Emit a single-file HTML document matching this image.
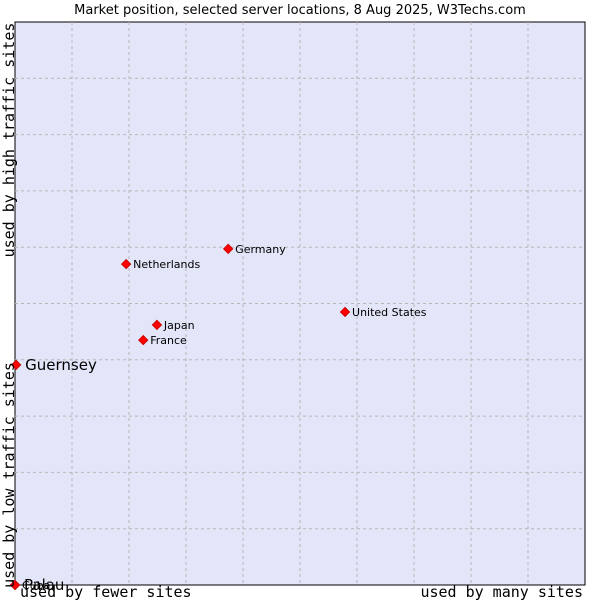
<!DOCTYPE html>
<html><head><meta charset="utf-8"><style>
body{margin:0;background:#fff;width:600px;height:600px;overflow:hidden}
svg text{font-family:"DejaVu Sans","Liberation Sans",sans-serif}
.mono{font-family:"DejaVu Sans Mono","Liberation Mono",monospace}
</style></head><body>
<svg id="chart" width="600" height="600">
<text x="300" y="14" text-anchor="middle" font-size="13" fill="#000">Market position, selected server locations, 8 Aug 2025, W3Techs.com</text>
<rect x="15" y="22" width="570" height="563" fill="#e3e5f8" stroke="#000" stroke-width="1"/>
<g id="grid"></g>
<g id="points"></g>
<text class="mono" x="300" y="0" transform="translate(14,270) rotate(-90)" text-anchor="middle" font-size="15" x="0"></text>
<text class="mono" transform="translate(14,140) rotate(-90)" text-anchor="middle" font-size="15">used by high traffic sites</text>
<text class="mono" transform="translate(14,475) rotate(-90)" text-anchor="middle" font-size="15">used by low traffic sites</text>
<text class="mono" x="20" y="597" font-size="15">used by fewer sites</text>
<text class="mono" x="583" y="597" text-anchor="end" font-size="15">used by many sites</text>
</svg>
<script>
const names=["Netherlands","Germany","Japan","France","United States","Guernsey","Palau","Cuba"];
const xs=[19.5,37.4,24.9,22.5,57.9,0.2,0,0];
const ys=[57.0,59.7,46.2,43.5,48.5,39.1,0,0];
const big=[false,false,false,false,false,true,true,false];
const L=15,T=22,W=570,H=563;
const sx=v=>L+v/100*W, sy=v=>T+H-v/100*H;
const NS="http://www.w3.org/2000/svg";
const g=document.getElementById('grid');
for(let i=1;i<10;i++){
 const v=document.createElementNS(NS,'line');
 
 
 v.setAttribute('x1',sx(i*10));v.setAttribute('x2',sx(i*10));v.setAttribute('y1',T);v.setAttribute('y2',T+H);
 v.setAttribute('stroke','#b8b8b8');v.setAttribute('stroke-dasharray','3,3');g.appendChild(v);
 const h=document.createElementNS(NS,'line');
 
 
 h.setAttribute('y1',sy(i*10));h.setAttribute('y2',sy(i*10));h.setAttribute('x1',L);h.setAttribute('x2',L+W);
 h.setAttribute('stroke','#b8b8b8');h.setAttribute('stroke-dasharray','3,3');g.appendChild(h);
}
const p=document.getElementById('points');
names.forEach((n,i)=>{
 const x=sx(xs[i]),y=sy(ys[i]);
 const d=document.createElementNS(NS,'path');
 
 
 d.setAttribute('d',`M${x} ${y-4.5}L${x+4.5} ${y}L${x} ${y+4.5}L${x-4.5} ${y}Z`);
 d.setAttribute('fill','#f00');d.setAttribute('stroke','#c00');p.appendChild(d);
 const t=document.createElementNS(NS,'text');
 
 
 t.setAttribute('x',x+(big[i]?9:7));t.setAttribute('y',y+(big[i]?5:4));
 t.setAttribute('font-size',big[i]?15:11);t.textContent=n;p.appendChild(t);
});
</script>
</body></html>
